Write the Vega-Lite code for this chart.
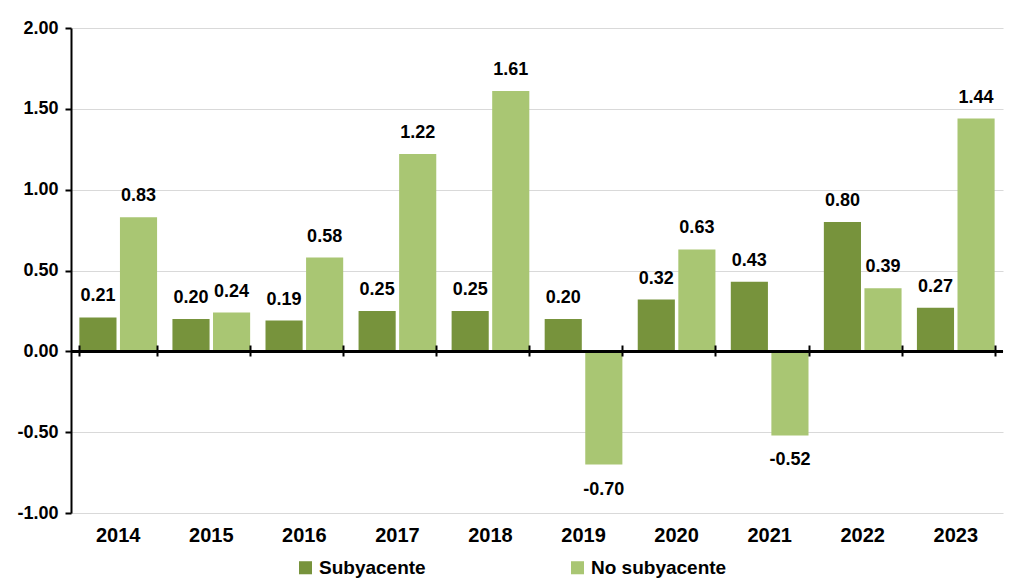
{
  "$schema": "https://vega.github.io/schema/vega-lite/v6.json",
  "autosize": {"type": "none"},
  "width": 932,
  "height": 485,
  "padding": {"left": 71, "top": 28, "right": 13, "bottom": 74},
  "background": "white",
  "data": {"values": [
    {"year": "2014", "series": "Subyacente", "value": 0.21},
    {"year": "2014", "series": "No subyacente", "value": 0.83},
    {"year": "2015", "series": "Subyacente", "value": 0.20},
    {"year": "2015", "series": "No subyacente", "value": 0.24},
    {"year": "2016", "series": "Subyacente", "value": 0.19},
    {"year": "2016", "series": "No subyacente", "value": 0.58},
    {"year": "2017", "series": "Subyacente", "value": 0.25},
    {"year": "2017", "series": "No subyacente", "value": 1.22},
    {"year": "2018", "series": "Subyacente", "value": 0.25},
    {"year": "2018", "series": "No subyacente", "value": 1.61},
    {"year": "2019", "series": "Subyacente", "value": 0.20},
    {"year": "2019", "series": "No subyacente", "value": -0.70},
    {"year": "2020", "series": "Subyacente", "value": 0.32},
    {"year": "2020", "series": "No subyacente", "value": 0.63},
    {"year": "2021", "series": "Subyacente", "value": 0.43},
    {"year": "2021", "series": "No subyacente", "value": -0.52},
    {"year": "2022", "series": "Subyacente", "value": 0.80},
    {"year": "2022", "series": "No subyacente", "value": 0.39},
    {"year": "2023", "series": "Subyacente", "value": 0.27},
    {"year": "2023", "series": "No subyacente", "value": 1.44}
  ]},
  "transform": [
    {"calculate": "replace(format(datum.value, '.2f'), '\u2212', '-')", "as": "label"}
  ],
  "encoding": {
    "x": {"field": "year", "type": "nominal",
      "scale": {"paddingInner": 0.165, "paddingOuter": 0.09}},
    "xOffset": {"field": "series", "type": "nominal",
      "sort": ["Subyacente", "No subyacente"],
      "scale": {"paddingInner": 0.085, "paddingOuter": 0}},
    "y": {"field": "value", "type": "quantitative",
      "scale": {"domain": [-1, 2], "nice": false, "zero": false},
      "axis": {"values": [-1, -0.5, 0, 0.5, 1, 1.5, 2], "title": null,
        "labelExpr": "replace(format(datum.value, '.2f'), '\u2212', '-')",
        "labelFont": "Liberation Sans", "labelFontWeight": "bold", "labelFontSize": 18,
        "labelColor": "#000000", "labelPadding": 7,
        "domain": true, "domainColor": "#000000", "domainWidth": 2,
        "ticks": true, "tickColor": "#000000", "tickWidth": 2, "tickSize": 6,
        "grid": true, "gridColor": "#D9D9D9", "gridWidth": 1}}
  },
  "layer": [
    {
      "mark": {"type": "bar"},
      "encoding": {
        "x": {"field": "year", "type": "nominal",
          "axis": {"title": null, "orient": "bottom", "labelAngle": 0, "labelFont": "Liberation Sans",
            "labelFontWeight": "bold", "labelFontSize": 20, "labelColor": "#000000",
            "labelPadding": 12, "domain": false, "ticks": false, "grid": false}},
        "color": {"field": "series", "type": "nominal",
          "sort": ["Subyacente", "No subyacente"],
          "scale": {"domain": ["Subyacente", "No subyacente"], "range": ["#77933C", "#A9C673"]},
          "legend": {"title": null, "orient": "none", "direction": "horizontal",
            "legendX": 225, "legendY": 530, "symbolType": "square", "symbolSize": 170,
            "symbolStrokeWidth": 0, "columnPadding": 142,
            "labelFont": "Liberation Sans", "labelFontWeight": "bold", "labelFontSize": 19,
            "labelColor": "#000000", "labelOffset": 4}}
      }
    },
    {
      "transform": [{"filter": "datum.value >= 0"}],
      "mark": {"type": "text", "baseline": "middle", "align": "center", "dy": -21,
        "font": "Liberation Sans", "fontWeight": "bold", "fontSize": 18, "color": "#000000"},
      "encoding": {
        "x": {"field": "year", "type": "nominal",
          "axis": {"title": null, "orient": "bottom", "labels": false, "domain": false, "grid": false,
            "ticks": true, "tickBand": "extent", "tickColor": "#000000", "tickWidth": 2,
            "tickSize": 11, "offset": -168, "zindex": 1}},
        "text": {"field": "label", "type": "nominal"}
      }
    },
    {
      "transform": [{"filter": "datum.value < 0"}],
      "mark": {"type": "text", "baseline": "middle", "align": "center", "dy": 25,
        "font": "Liberation Sans", "fontWeight": "bold", "fontSize": 18, "color": "#000000"},
      "encoding": {
        "x": {"field": "year", "type": "nominal", "axis": null},
        "text": {"field": "label", "type": "nominal"}
      }
    },
    {
      "mark": {"type": "rule", "color": "#000000", "strokeWidth": 2},
      "encoding": {
        "x": {"value": 0},
        "x2": {"value": "width"},
        "xOffset": null,
        "y": {"datum": 0}
      }
    }
  ],
  "resolve": {"axis": {"x": "independent"}},
  "config": {"view": {"stroke": null}}
}
